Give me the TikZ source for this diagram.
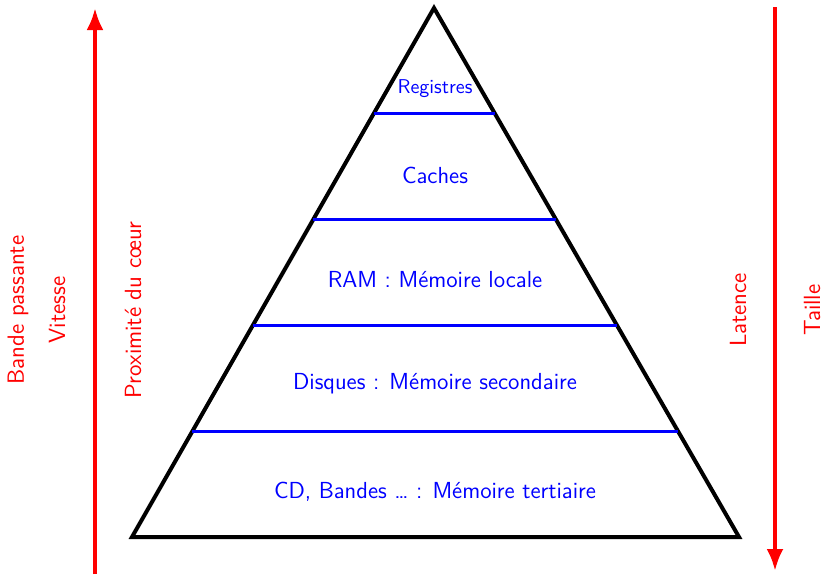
\documentclass[tikz,border=0pt]{standalone}
\usepackage{tikz}
\usetikzlibrary{calc,arrows.meta}

\tikzset{
  niveau/.style={color=blue, line width=1.6pt},
  etiq/.style={text=blue, font=\sffamily\fontsize{11.6}{13}\selectfont},
  axe/.style={color=red, line width=2pt, -{Latex[length=11pt,width=8.5pt]}},
  axetxt/.style={text=red, font=\sffamily\fontsize{11.7}{13}\selectfont, rotate=90}
}

\begin{document}
\begin{tikzpicture}[x=0.5pt,y=0.5pt,yscale=-1]
    \useasboundingbox (0,0) rectangle (823,574);

    % Pyramid
    \coordinate (apex) at (434,8);
    \coordinate (bl) at (132,537);
    \coordinate (br) at (739,537);
    \draw [line width=2pt, line join=miter] (apex) -- (bl) -- (br) -- cycle;

    % Levels
    \foreach \f in {0.2,0.4,0.6,0.8}
      \draw [niveau] ($(apex)!\f!(bl)$) -- ($(apex)!\f!(br)$);

    % Text Node
    \node [etiq, font=\sffamily\fontsize{10}{12}\selectfont] (reg) at (435,89) {Registres};
    % Text Node
    \node [etiq] (cache) at (435,175) {Caches};
    % Text Node
    \node [etiq] (ram) at (435,280) {RAM : Mémoire locale};
    % Text Node
    \node [etiq] (disq) at (435,384) {Disques : Mémoire secondaire};
    % Text Node
    \node [etiq] (tert) at (435,492) {CD, Bandes \ldots\ : Mémoire tertiaire};

    % Arrows
    \coordinate (gbas) at (95,574);
    \coordinate (ghaut) at (95,8);
    \coordinate (dhaut) at (775,7);
    \coordinate (dbas) at (775,571);
    \draw [axe] (gbas) -- (ghaut);
    \draw [axe] (dhaut) -- (dbas);

    % Side labels
    \node [axetxt] (bande) at (18,310) {Bande passante};
    \node [axetxt] (vit) at (57,310) {Vitesse};
    \node [axetxt] (prox) at (133,310) {Proximité du c\oe ur};
    \node [axetxt] (lat) at (738,310) {Latence};
    \node [axetxt] (taille) at (812,310) {Taille};

\end{tikzpicture}
\end{document}
